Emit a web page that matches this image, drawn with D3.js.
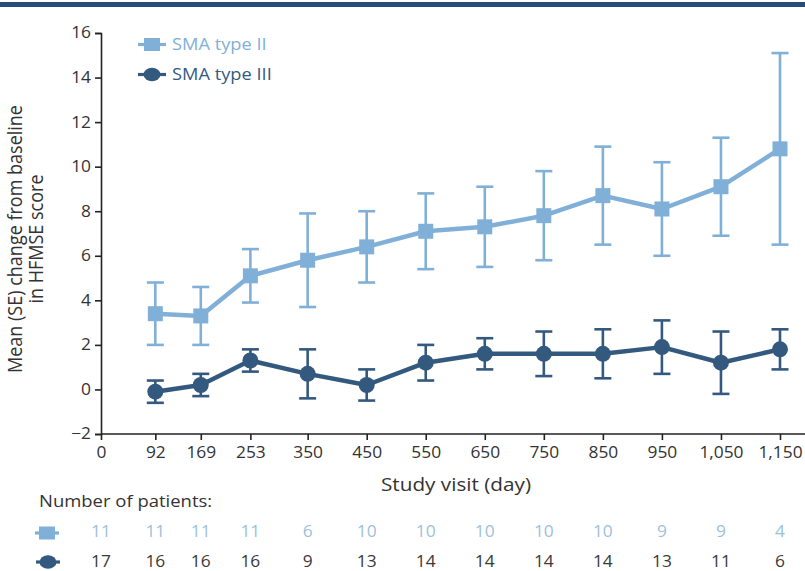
<!DOCTYPE html>
<html>
<head>
<meta charset="utf-8">
<script src="https://cdn.jsdelivr.net/npm/d3@7/dist/d3.min.js"></script>
<style>
  html, body { margin: 0; padding: 0; background: #fff; }
  svg { display: block; font-family: "Open Sans", "Noto Sans", sans-serif; }
</style>
</head>
<body>
<svg id="chart" width="805" height="571"></svg>
<script>
// Study visit days (x positions of plotted points)
const days = [92, 169, 253, 350, 450, 550, 650, 750, 850, 950, 1050, 1150];
// Days at which patient counts are listed (baseline included)
const countDays = [0, 92, 169, 253, 350, 450, 550, 650, 750, 850, 950, 1050, 1150];
const xTicks = [0, 92, 169, 253, 350, 450, 550, 650, 750, 850, 950, 1050, 1150];
const yTicks = [-2, 0, 2, 4, 6, 8, 10, 12, 14, 16];

// SMA type II: mean change, lower and upper SE bounds
const type2Mean = [3.4, 3.3, 5.1, 5.8, 6.4, 7.1, 7.3, 7.8, 8.7, 8.1, 9.1, 10.8];
const type2Low  = [2.0, 2.0, 3.9, 3.7, 4.8, 5.4, 5.5, 5.8, 6.5, 6.0, 6.9, 6.5];
const type2High = [4.8, 4.6, 6.3, 7.9, 8.0, 8.8, 9.1, 9.8, 10.9, 10.2, 11.3, 15.1];

// SMA type III: mean change, lower and upper SE bounds
const type3Mean = [-0.1, 0.2, 1.3, 0.7, 0.2, 1.2, 1.6, 1.6, 1.6, 1.9, 1.2, 1.8];
const type3Low  = [-0.6, -0.3, 0.8, -0.4, -0.5, 0.4, 0.9, 0.6, 0.5, 0.7, -0.2, 0.9];
const type3High = [0.4, 0.7, 1.8, 1.8, 0.9, 2.0, 2.3, 2.6, 2.7, 3.1, 2.6, 2.7];

// Number of patients per visit
const type2N = [11, 11, 11, 11, 6, 10, 10, 10, 10, 10, 9, 9, 4];
const type3N = [17, 16, 16, 16, 9, 13, 14, 14, 14, 14, 13, 11, 6];

const seriesNames = ["SMA type II", "SMA type III"];
const colorII = "#80b0d8";
const colorIII = "#34597f";
const axisColor = "#222";
const textColor = "#333";
const SX = 1.12; // horizontal widening applied to lettering

const svg = d3.select("#chart");

// widen text horizontally about its own x anchor
function widen(sel) {
  sel.each(function () {
    const x = +this.getAttribute("x") || 0;
    this.setAttribute("transform", `translate(${x * (1 - SX)},0) scale(${SX},1)`);
  });
  return sel;
}

// header rule
svg.append("rect").attr("x", 0).attr("y", 2).attr("width", 805).attr("height", 5).attr("fill", "#2a4b7a");

const x = d3.scaleLinear().domain([0, 1150]).range([101, 780]);
const y = d3.scaleLinear().domain([-2, 16]).range([434, 33]);

// axes
const xAxis = svg.append("g")
  .attr("transform", `translate(0,${y(-2)})`)
  .call(d3.axisBottom(x).tickValues(xTicks).tickSizeOuter(0).tickSize(6).tickPadding(7)
    .tickFormat(d => d3.format(",")(d)));
xAxis.select(".domain").attr("d", `M${x(0)},0H805`);

const yAxis = svg.append("g")
  .attr("transform", `translate(${x(0)},0)`)
  .call(d3.axisLeft(y).tickValues(yTicks).tickSizeOuter(0).tickSize(6).tickPadding(4)
    .tickFormat(d => d < 0 ? "\u2212" + Math.abs(d) : d));

[xAxis, yAxis].forEach(g => {
  g.selectAll(".domain, .tick line").attr("stroke", axisColor).attr("stroke-width", 1.6);
  const t = g.selectAll(".tick text").attr("fill", textColor).style("font-size", "15.5px")
    .style("font-family", "'Open Sans', sans-serif");
  widen(t);
});

// axis titles
const yTitleY = 239;
svg.append("text")
  .attr("transform", `translate(21.5,${yTitleY}) scale(${SX},1) rotate(-90)`)
  .attr("text-anchor", "middle").attr("fill", textColor).style("font-size", "18px")
  .text("Mean (SE) change from baseline");
svg.append("text")
  .attr("transform", `translate(43,${yTitleY}) scale(${SX},1) rotate(-90)`)
  .attr("text-anchor", "middle").attr("fill", textColor).style("font-size", "18px")
  .text("in HFMSE score");
widen(svg.append("text")
  .attr("x", 456).attr("y", 491)
  .attr("text-anchor", "middle").attr("fill", textColor).style("font-size", "18.5px")
  .text("Study visit (day)"));

const line = d3.line().x(d => x(d.day)).y(d => y(d.mean));

function drawSeries(mean, low, high, color, shape) {
  const data = days.map((day, i) => ({ day, mean: mean[i], low: low[i], high: high[i] }));
  const g = svg.append("g");
  const cap = 8.5;
  const eb = g.selectAll("g.eb").data(data).join("g").attr("stroke", color).attr("stroke-width", 2.6);
  eb.append("line").attr("x1", d => x(d.day)).attr("x2", d => x(d.day))
    .attr("y1", d => y(d.low)).attr("y2", d => y(d.high));
  eb.append("line").attr("x1", d => x(d.day) - cap).attr("x2", d => x(d.day) + cap)
    .attr("y1", d => y(d.high)).attr("y2", d => y(d.high));
  eb.append("line").attr("x1", d => x(d.day) - cap).attr("x2", d => x(d.day) + cap)
    .attr("y1", d => y(d.low)).attr("y2", d => y(d.low));
  g.append("path").datum(data).attr("d", line).attr("fill", "none")
    .attr("stroke", color).attr("stroke-width", 4.5).attr("stroke-linejoin", "round");
  if (shape === "square") {
    g.selectAll("rect.m").data(data).join("rect")
      .attr("x", d => x(d.day) - 7.5).attr("y", d => y(d.mean) - 7.5)
      .attr("width", 15).attr("height", 15).attr("fill", color);
  } else {
    g.selectAll("circle.m").data(data).join("circle")
      .attr("cx", d => x(d.day)).attr("cy", d => y(d.mean)).attr("r", 8).attr("fill", color);
  }
}

drawSeries(type2Mean, type2Low, type2High, colorII, "square");
drawSeries(type3Mean, type3Low, type3High, colorIII, "circle");

function legendIcon(g, cx, cy, color, shape, half) {
  g.append("line").attr("x1", cx - half).attr("x2", cx + half).attr("y1", cy).attr("y2", cy)
    .attr("stroke", color).attr("stroke-width", 3.2);
  if (shape === "square") {
    g.append("rect").attr("x", cx - 8).attr("y", cy - 6.5).attr("width", 16).attr("height", 13).attr("fill", color);
  } else {
    g.append("ellipse").attr("cx", cx).attr("cy", cy).attr("rx", 8.5).attr("ry", 6.8).attr("fill", color);
  }
}

// legend
const lg = svg.append("g");
legendIcon(lg, 152, 44.5, colorII, "square", 14);
widen(lg.append("text").attr("x", 172).attr("y", 50.5).attr("fill", colorII).style("font-size", "16.3px").text(seriesNames[0]));
legendIcon(lg, 152, 74.5, colorIII, "circle", 14);
widen(lg.append("text").attr("x", 172).attr("y", 80.5).attr("fill", colorIII).style("font-size", "16.3px").text(seriesNames[1]));

// patient count table
widen(svg.append("text").attr("x", 39).attr("y", 507).attr("fill", textColor).style("font-size", "16.5px")
  .text("Number of patients:"));
const tg = svg.append("g");
legendIcon(tg, 47, 533, colorII, "square", 12);
legendIcon(tg, 48, 562, colorIII, "circle", 12);
widen(tg.selectAll("text.n2").data(type2N).join("text")
  .attr("x", (d, i) => x(countDays[i])).attr("y", 537.5).attr("text-anchor", "middle")
  .attr("fill", "#9dbfdc").style("font-size", "15.5px").text(d => d));
widen(tg.selectAll("text.n3").data(type3N).join("text")
  .attr("x", (d, i) => x(countDays[i])).attr("y", 567.5).attr("text-anchor", "middle")
  .attr("fill", "#3a3a3a").style("font-size", "15.5px").text(d => d));
</script>
</body>
</html>
